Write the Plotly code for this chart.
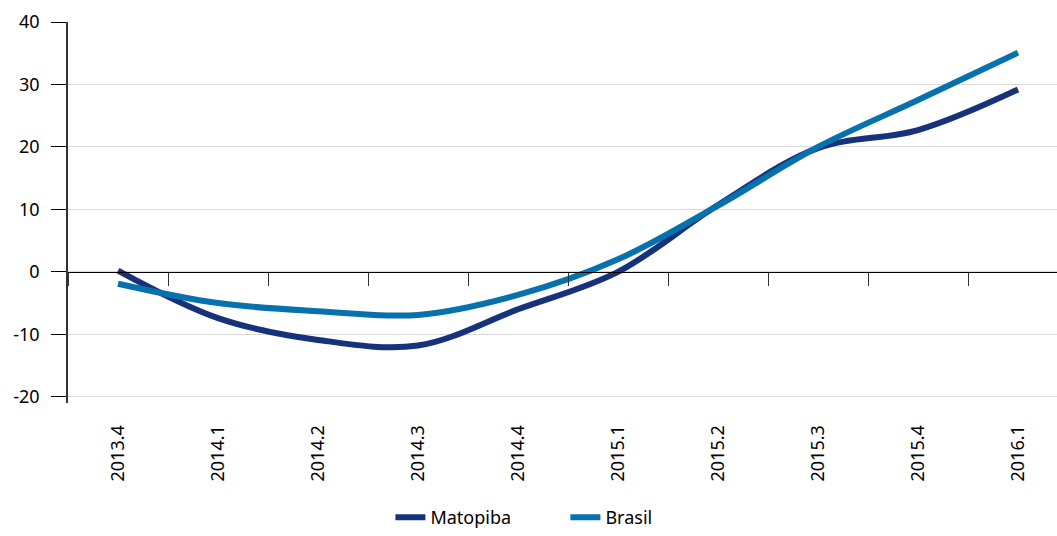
import plotly.graph_objects as go

categories = ["2013.4", "2014.1", "2014.2", "2014.3", "2014.4",
              "2015.1", "2015.2", "2015.3", "2015.4", "2016.1"]
matopiba = [0.2, -7.4, -10.9, -11.8, -6.0, 0.0, 10.7, 19.8, 22.7, 29.2]
brasil = [-1.9, -5.0, -6.3, -6.9, -3.7, 2.0, 10.6, 20.0, 27.5, 35.1]
y_ticks = [-20, -10, 0, 10, 20, 30, 40]
y_ticktext = [str(v) for v in y_ticks]

FONT = "Noto Sans"
YMIN, YMAX = -21, 40
XRANGE = [-0.5, 9.39]

fig = go.Figure()
fig.add_trace(go.Scatter(
    x=categories, y=matopiba, name="Matopiba", mode="lines",
    line=dict(color="#16327a", width=6, shape="spline", smoothing=1.0),
))
fig.add_trace(go.Scatter(
    x=categories, y=brasil, name="Brasil", mode="lines",
    line=dict(color="#0771ad", width=6, shape="spline", smoothing=1.0),
))
# helper trace to register categories on the zero-line axis
fig.add_trace(go.Scatter(
    x=categories, y=[None] * len(categories), xaxis="x2", yaxis="y",
    showlegend=False, hoverinfo="skip", mode="lines",
))

fig.update_layout(
    width=1057, height=536,
    margin=dict(l=68, r=0, t=22, b=133),
    plot_bgcolor="white", paper_bgcolor="white",
    font=dict(family=FONT, size=18, color="black"),
    showlegend=True,
    legend=dict(orientation="h", x=0.326, xanchor="left",
                yref="container", y=0, yanchor="bottom",
                font=dict(family=FONT, size=18, color="black"),
                entrywidth=130, entrywidthmode="pixels", tracegroupgap=0),
    xaxis=dict(
        type="category", range=XRANGE, showgrid=False, zeroline=False, automargin=False,
        showline=False, ticks="outside", ticklen=14, tickcolor="rgba(0,0,0,0)",
        tickangle=-90, tickfont=dict(family=FONT, size=18, color="black"),
    ),
    xaxis2=dict(
        type="category", range=XRANGE, overlaying="x", anchor="free", automargin=False,
        position=(0 - YMIN) / (YMAX - YMIN), side="bottom",
        showgrid=False, zeroline=False, showticklabels=False,
        showline=True, linecolor="black", linewidth=1.2,
        ticks="outside", ticklen=13, tickcolor="#333333", tickwidth=1.2,
        tickson="boundaries",
    ),
    yaxis=dict(
        range=[YMIN, YMAX], tickvals=y_ticks, ticktext=y_ticktext, automargin=False,
        showgrid=True, gridcolor="#d9d9d9",
        gridwidth=1, zeroline=False, showline=True, linecolor="#333333", linewidth=1.5,
        ticks="outside", ticklen=15, tickcolor="black", tickwidth=1.2,
        ticklabelstandoff=8,
        tickfont=dict(family=FONT, size=18, color="black"),
    ),
)

fig.write_html("out.html", config={"displayModeBar": False},
               post_script="document.body.style.margin='0';document.body.style.padding='0';")
